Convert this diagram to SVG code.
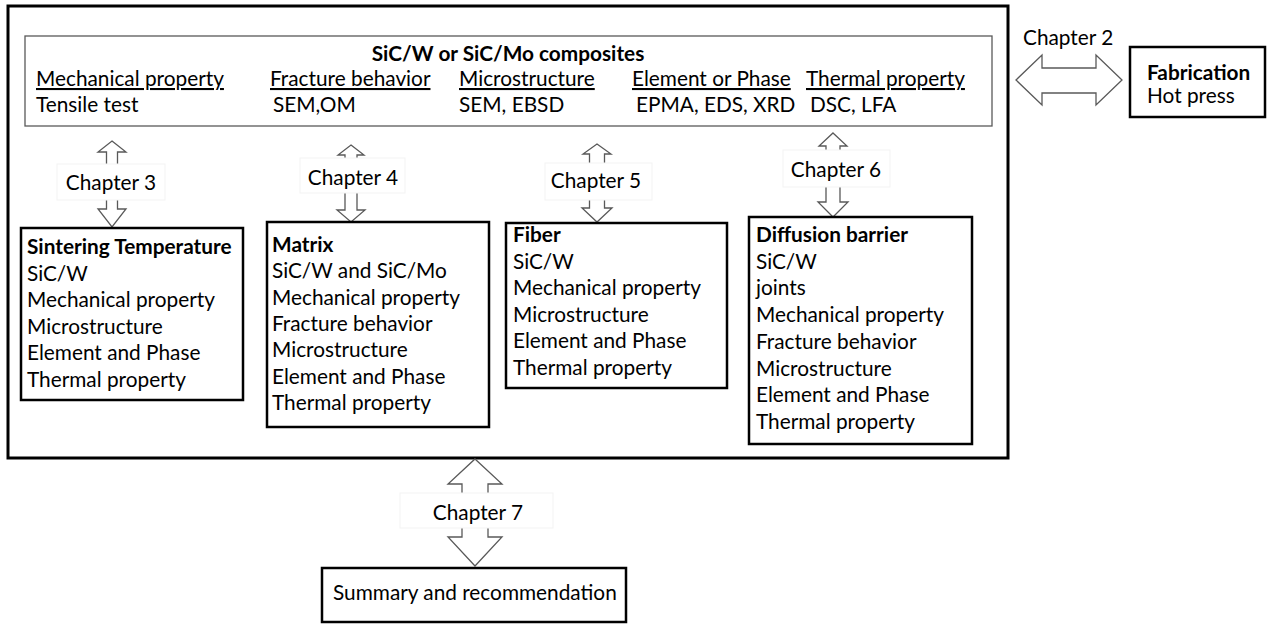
<svg xmlns="http://www.w3.org/2000/svg" width="1269" height="624" viewBox="0 0 1269 624">
<style>
text{font-family:Lato,"Liberation Sans",sans-serif;font-size:20.8px;fill:#000}
.b{font-weight:bold}
.u{text-decoration:underline}
.box{fill:#fff;stroke:#000;stroke-width:2.5}
.arr{fill:#fff;stroke:#595959;stroke-width:1.3;stroke-linejoin:miter}
.lbl{fill:#fff;stroke:#f3f3f3;stroke-width:1}
.mid{text-anchor:middle}
</style>
<rect width="1269" height="624" fill="#fff"/>
<g id="outer">
<rect x="8" y="6" width="1000" height="452" fill="#fff" stroke="#000" stroke-width="3"/>
</g>
<g id="composites">
<rect x="25" y="36" width="967" height="90" fill="#fff" stroke="#595959" stroke-width="1.3"/>
<text class="b mid" x="508" y="61">SiC/W or SiC/Mo composites</text>
<text class="u" x="36" y="86">Mechanical property</text>
<text class="u" x="270" y="86">Fracture behavior</text>
<text class="u" x="459" y="86">Microstructure</text>
<text class="u" x="632" y="86">Element or Phase</text>
<text class="u" x="806" y="86">Thermal property</text>
<text x="36" y="112">Tensile test</text>
<text x="273" y="112">SEM,OM</text>
<text x="459" y="112">SEM, EBSD</text>
<text x="636" y="112">EPMA, EDS, XRD</text>
<text x="810" y="112">DSC, LFA</text>
</g>
<g id="connectors">
<polygon class="arr" points="112,141 126,152 117.5,152 117.5,209 126,209 112,227 98,209 106.5,209 106.5,152 98,152"/>
<rect class="lbl" x="57" y="164" width="108" height="36"/>
<text class="mid" x="111" y="190">Chapter 3</text>
<polygon class="arr" points="351,145 364,155 357,155 357,210 365,210 351,222 337,210 345,210 345,155 338,155"/>
<rect class="lbl" x="300" y="158" width="105" height="35"/>
<text class="mid" x="353" y="185">Chapter 4</text>
<polygon class="arr" points="597,144 611,154 604.5,154 604.5,208 612,208 597,222 582,208 589.5,208 589.5,154 583,154"/>
<rect class="lbl" x="545" y="163" width="107" height="37"/>
<text class="mid" x="596" y="188">Chapter 5</text>
<polygon class="arr" points="833,133 847,146 840,146 840,202 848,202 833,217 818,202 826,202 826,146 819,146"/>
<rect class="lbl" x="783" y="150" width="107" height="37"/>
<text class="mid" x="836" y="177">Chapter 6</text>
<polygon class="arr" points="1016,80 1042,55 1042,68 1096,68 1096,55 1122,80 1096,105 1096,93 1042,93 1042,105"/>
<text x="1023" y="45">Chapter 2</text>
<polygon class="arr" points="475,459 502,484 488,484 488,537 502,537 475,566 448,537 462,537 462,484 448,484"/>
<rect class="lbl" x="400" y="493" width="153" height="35"/>
<text class="mid" x="478" y="520">Chapter 7</text>
</g>
<g id="fabrication">
<rect class="box" x="1130" y="47" width="135" height="70"/>
<text class="b" x="1147" y="80">Fabrication</text>
<text x="1147" y="103">Hot press</text>
</g>
<g id="sintering">
<rect class="box" x="21" y="228" width="222" height="172"/>
<text class="b" x="27" y="254">Sintering Temperature</text>
<text x="27" y="280.5">SiC/W</text>
<text x="27" y="307">Mechanical property</text>
<text x="27" y="333.5">Microstructure</text>
<text x="27" y="360">Element and Phase</text>
<text x="27" y="386.5">Thermal property</text>
</g>
<g id="matrix">
<rect class="box" x="267" y="222" width="222" height="205"/>
<text class="b" x="272" y="252">Matrix</text>
<text x="272" y="278.3">SiC/W and SiC/Mo</text>
<text x="272" y="304.6">Mechanical property</text>
<text x="272" y="330.9">Fracture behavior</text>
<text x="272" y="357.2">Microstructure</text>
<text x="272" y="383.5">Element and Phase</text>
<text x="272" y="409.8">Thermal property</text>
</g>
<g id="fiber">
<rect class="box" x="506" y="223" width="221" height="165"/>
<text class="b" x="513" y="242">Fiber</text>
<text x="513" y="268.5">SiC/W</text>
<text x="513" y="295">Mechanical property</text>
<text x="513" y="321.5">Microstructure</text>
<text x="513" y="348">Element and Phase</text>
<text x="513" y="374.5">Thermal property</text>
</g>
<g id="diffusion">
<rect class="box" x="749" y="217" width="223" height="227"/>
<text class="b" x="756" y="242">Diffusion barrier</text>
<text x="756" y="268.7">SiC/W</text>
<text x="756" y="295.4">joints</text>
<text x="756" y="322.1">Mechanical property</text>
<text x="756" y="348.8">Fracture behavior</text>
<text x="756" y="375.5">Microstructure</text>
<text x="756" y="402.2">Element and Phase</text>
<text x="756" y="428.9">Thermal property</text>
</g>
<g id="summary">
<rect class="box" x="322" y="568" width="304" height="54"/>
<text x="333" y="600">Summary and recommendation</text>
</g>
</svg>
